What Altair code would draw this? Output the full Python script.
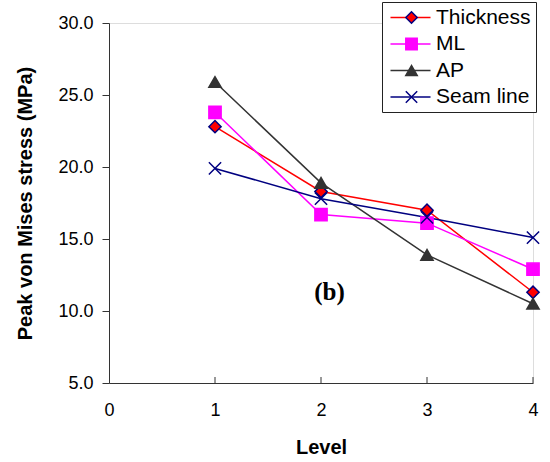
import altair as alt
import pandas as pd

levels = [1, 2, 3, 4]
series_names = ["Thickness", "ML", "AP", "Seam line"]
thickness = [22.8, 18.3, 17.0, 11.3]
ml = [23.8, 16.7, 16.1, 12.9]
ap = [25.9, 18.9, 13.9, 10.5]
seam = [19.9, 17.8, 16.5, 15.1]
x_ticks = [0, 1, 2, 3, 4]
y_ticks = [5, 10, 15, 20, 25, 30]

line_colors = ["#ff0000", "#ff00ff", "#333333", "#000080"]
fill_colors = ["#ff0000", "#ff00ff", "#333333", "transparent"]
stroke_colors = ["#000080", "#ff00ff", "#333333", "#000080"]
shapes = ["diamond", "square", "triangle-up", "M-1,-1L1,1M1,-1L-1,1"]

# marker layer uses a separate key (names + trailing space) so its legend stays separate
marker_names = [n + " " for n in series_names]

rows = []
for name, mname, vals in zip(series_names, marker_names, [thickness, ml, ap, seam]):
    for lv, v in zip(levels, vals):
        rows.append({"level": lv, "stress": v, "series": name, "series2": mname})
df = pd.DataFrame(rows)
ticks_df = pd.DataFrame({"t": x_ticks[1:]})

W, H = 424, 360
FONT = "Liberation Sans"

xscale = alt.Scale(domain=[0, 4], nice=False, zero=False)
yscale = alt.Scale(domain=[5, 30], nice=False, zero=False)

xaxis = alt.Axis(values=x_ticks, format="d", title="Level", ticks=False, labelPadding=18,
                 labelFontSize=18, titleFontSize=20, titleFontWeight="bold",
                 titlePadding=18, grid=False, domainColor="#333333",
                 labelColor="black", titleColor="black", labelFlush=False)
yaxis = alt.Axis(values=y_ticks, format=".1f", title="Peak von Mises stress (MPa)",
                 tickSize=7, labelPadding=9, labelFontSize=18, titleFontSize=20,
                 titleFontWeight="bold", titlePadding=22, grid=False,
                 domainColor="#333333", tickColor="#333333", labelColor="black",
                 titleColor="black", labelFlush=False)

base = alt.Chart(df)

LEG_X, LEG_Y = 273, -21

lines = base.mark_line(strokeWidth=1.5).encode(
    x=alt.X("level:Q", scale=xscale, axis=xaxis),
    y=alt.Y("stress:Q", scale=yscale, axis=yaxis),
    color=alt.Color("series:N", scale=alt.Scale(domain=series_names, range=line_colors),
                    legend=alt.Legend(title=None, orient="none", legendX=LEG_X, legendY=LEG_Y,
                                      symbolType="M-3,0L3,0", symbolSize=178,
                                      symbolStrokeWidth=1.5, labelFontSize=21,
                                      labelFont=FONT, labelColor="black",
                                      padding=5, symbolOffset=13, labelOffset=15,
                                      rowPadding=4.5, strokeColor="#222222",
                                      fillColor="white")),
)

points = base.mark_point(filled=True, opacity=1, size=150, strokeWidth=1.5).encode(
    x=alt.X("level:Q", scale=xscale),
    y=alt.Y("stress:Q", scale=yscale),
    shape=alt.Shape("series2:N", scale=alt.Scale(domain=marker_names, range=shapes),
                    legend=alt.Legend(title=None, orient="none", legendX=LEG_X, legendY=LEG_Y,
                                      symbolSize=130, symbolStrokeWidth=1.5,
                                      labelFontSize=21, labelFont=FONT,
                                      labelExpr="''", padding=5,
                                      symbolOffset=14, labelOffset=6, rowPadding=4.5)),
    fill=alt.Fill("series2:N", scale=alt.Scale(domain=marker_names, range=fill_colors)),
    stroke=alt.Stroke("series2:N", scale=alt.Scale(domain=marker_names, range=stroke_colors)),
)

inner_ticks = alt.Chart(ticks_df).mark_rule(color="#333333", strokeWidth=1).encode(
    x=alt.X("t:Q", scale=xscale),
    y=alt.value(H),
    y2=alt.value(H - 6),
)

label = alt.Chart(pd.DataFrame({"txt": ["(b)"]})).mark_text(
    font="Liberation Serif", fontWeight="bold", fontSize=25, color="black"
).encode(
    x=alt.datum(2.08, scale=xscale),
    y=alt.datum(11.3, scale=yscale),
    text="txt:N",
)

chart = alt.layer(inner_ticks, lines, points, label).properties(
    width=W, height=H,
    autosize=alt.AutoSizeParams(type="none"),
    padding={"left": 109, "top": 23, "right": 17, "bottom": 79},
).configure_view(stroke=None).configure(font=FONT).configure_axis(
    labelFont=FONT, titleFont=FONT
)

chart.save("out.html", embed_options={"renderer": "svg", "actions": False})
